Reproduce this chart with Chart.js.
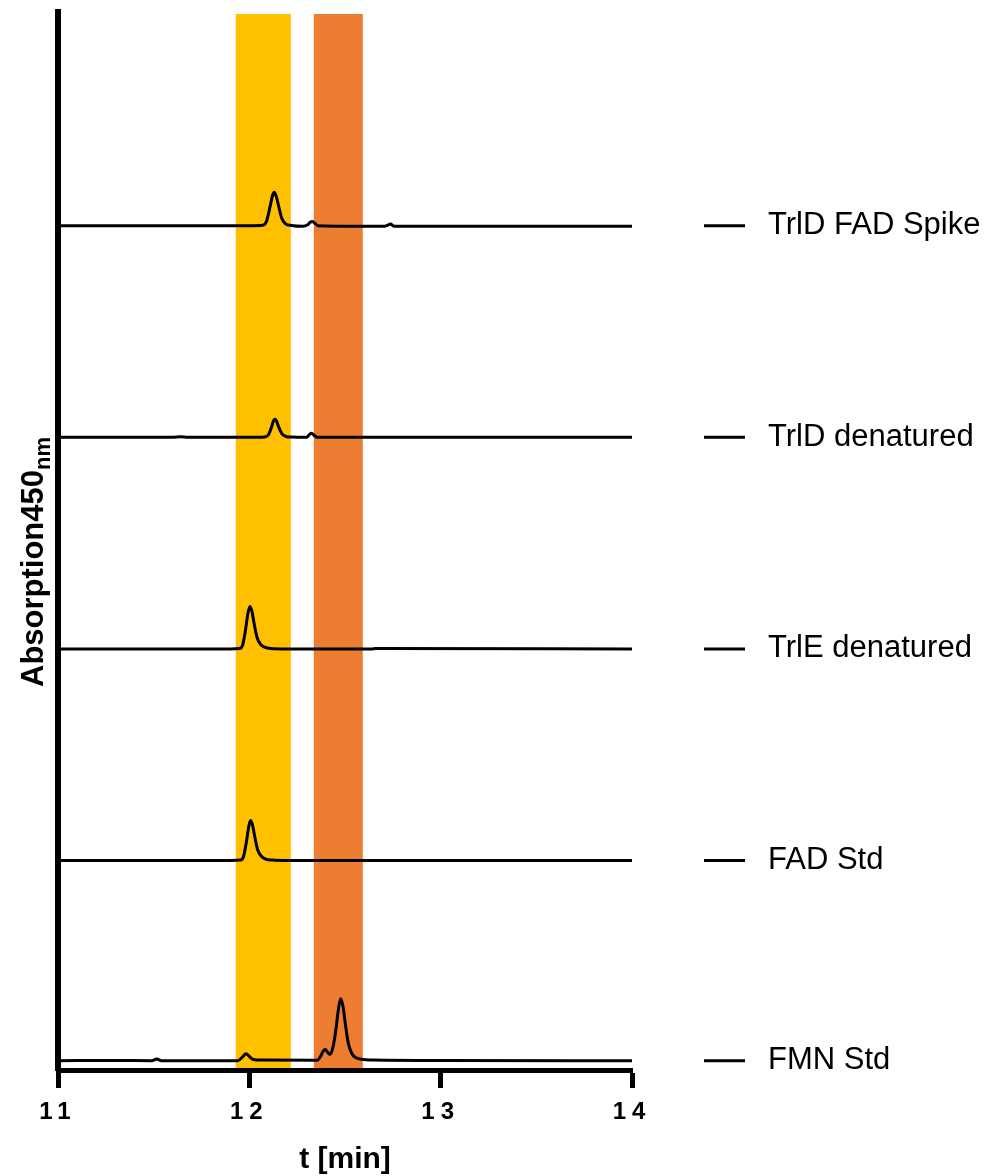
<!DOCTYPE html>
<html>
<head>
<meta charset="utf-8">
<script src="https://cdn.jsdelivr.net/npm/chart.js@4/dist/chart.umd.min.js"></script>
<style>
  body { margin: 0; background: #fff; }
  #wrap { width: 984px; height: 1176px; }
</style>
</head>
<body>
<div id="wrap"><canvas id="chrom" width="984" height="1176"></canvas></div>
<script>
// Sample names, top to bottom
const sampleNames = ['TrlD FAD Spike', 'TrlD denatured', 'TrlE denatured', 'FAD Std', 'FMN Std'];
// Vertical offset of each trace (stacked chromatograms)
const traceOffsets = [3.99, 2.99, 1.99, 0.99, 0.044];

// Retention time [min] and absorbance for each trace
const spikeTime = [11.0, 11.5, 12.0, 12.07, 12.09, 12.11, 12.122, 12.13, 12.14, 12.15, 12.17, 12.19, 12.22, 12.28, 12.305, 12.318, 12.329, 12.342, 12.36, 12.7, 12.722, 12.738, 12.755, 13.2, 14.0];
const spikeAbs  = [0, 0, 0, 0.002, 0.021, 0.097, 0.145, 0.158, 0.14, 0.105, 0.034, 0.009, 0.001, -0.003, 0.004, 0.016, 0.02, 0.012, 0, -0.003, 0.002, 0.008, -0.002, -0.003, -0.003];

const trldTime = [11.0, 11.6, 11.64, 11.68, 12.0, 12.08, 12.1, 12.115, 12.125, 12.133, 12.142, 12.152, 12.17, 12.19, 12.22, 12.3, 12.313, 12.325, 12.338, 12.355, 12.6, 14.0];
const trldAbs  = [0, 0, 0.003, 0, 0, 0.002, 0.012, 0.045, 0.075, 0.085, 0.077, 0.052, 0.018, 0.005, 0.001, 0, 0.012, 0.019, 0.01, 0, 0, 0];

const trleTime = [11.0, 11.9, 11.95, 11.965, 11.98, 11.993, 12.003, 12.013, 12.025, 12.04, 12.06, 12.08, 12.11, 12.2, 12.64, 12.66, 14.0];
const trleAbs  = [0, 0, 0.002, 0.018, 0.09, 0.17, 0.201, 0.18, 0.12, 0.055, 0.02, 0.008, 0.002, 0, 0, 0.002, 0];

const fadTime = [11.0, 11.9, 11.955, 11.97, 11.985, 11.997, 12.006, 12.016, 12.028, 12.043, 12.063, 12.085, 12.12, 12.2, 14.0];
const fadAbs  = [0, 0, 0.002, 0.02, 0.09, 0.16, 0.189, 0.17, 0.115, 0.052, 0.02, 0.007, 0.002, 0, 0];

const fmnTime = [11.0, 11.3, 11.49, 11.516, 11.54, 11.94, 11.965, 11.982, 12.0, 12.02, 12.06, 12.355, 12.372, 12.386, 12.397, 12.409, 12.421, 12.433, 12.445, 12.455, 12.465, 12.477, 12.49, 12.503, 12.518, 12.535, 12.555, 12.585, 12.65, 13.0, 14.0];
const fmnAbs  = [0, 0.001, 0, 0.008, 0, 0, 0.018, 0.033, 0.02, 0.006, 0.003, 0.002, 0.02, 0.045, 0.053, 0.04, 0.03, 0.05, 0.1, 0.165, 0.24, 0.293, 0.255, 0.165, 0.08, 0.035, 0.015, 0.007, 0.003, 0.001, 0];

const traceTimes = [spikeTime, trldTime, trleTime, fadTime, fmnTime];
const traceAbs = [spikeAbs, trldAbs, trleAbs, fadAbs, fmnAbs];

// Highlighted retention windows [start, end] in min: FAD, FMN
const windowRanges = [[11.929, 12.217], [12.337, 12.593]];
const windowColors = ['#FFC000', '#ED7D31'];

const xTicks = [11, 12, 13, 14];

const FONT = '"Liberation Sans", Arial, Helvetica, sans-serif';

const datasets = sampleNames.map((name, i) => ({
  label: name,
  data: traceTimes[i].map((t, k) => ({ x: t, y: traceAbs[i][k] + traceOffsets[i] })),
  borderColor: '#000',
  borderWidth: 3,
  pointRadius: 0,
  fill: false,
  cubicInterpolationMode: 'monotone'
}));

// shaded windows behind everything, plus spaced tick digits
const windowPlugin = {
  id: 'windows',
  beforeDraw(chart) {
    const { ctx, chartArea } = chart;
    const xs = chart.scales.x;
    ctx.save();
    windowRanges.forEach((r, i) => {
      const x1 = xs.getPixelForValue(r[0]);
      const x2 = xs.getPixelForValue(r[1]);
      ctx.fillStyle = windowColors[i];
      ctx.fillRect(x1, chartArea.top + 2, x2 - x1, chartArea.bottom - chartArea.top - 2);
    });
    ctx.restore();
    ctx.letterSpacing = '6px';
  },
  beforeDatasetsDraw(chart) {
    chart.ctx.letterSpacing = '0px';
  }
};

// sample labels on the right, axis titles
const labelPlugin = {
  id: 'labels',
  afterDraw(chart) {
    const { ctx, chartArea } = chart;
    const ys = chart.scales.y;
    ctx.save();
    ctx.letterSpacing = '0px';
    ctx.fillStyle = '#000';
    ctx.strokeStyle = '#000';

    sampleNames.forEach((name, i) => {
      const y = ys.getPixelForValue(traceOffsets[i]);
      ctx.lineWidth = 3;
      ctx.beginPath();
      ctx.moveTo(704, y);
      ctx.lineTo(745, y);
      ctx.stroke();
      ctx.font = '31px ' + FONT;
      ctx.textAlign = 'left';
      ctx.textBaseline = 'middle';
      ctx.fillText(name, 768, y);
    });

    // x title
    ctx.font = 'bold 30px ' + FONT;
    ctx.textAlign = 'center';
    ctx.textBaseline = 'middle';
    ctx.fillText('t [min]', (chartArea.left + chartArea.right) / 2, 1160);

    // y title with subscript
    ctx.translate(43, 687);
    ctx.rotate(-Math.PI / 2);
    ctx.textAlign = 'left';
    ctx.textBaseline = 'alphabetic';
    ctx.font = 'bold 31px ' + FONT;
    const main = 'Absorption450';
    ctx.fillText(main, 0, 0);
    const w = ctx.measureText(main).width;
    ctx.font = 'bold 22px ' + FONT;
    ctx.fillText('nm', w, 7);
    ctx.restore();
  }
};

new Chart(document.getElementById('chrom'), {
  type: 'line',
  data: { datasets },
  options: {
    responsive: false,
    animation: false,
    layout: { padding: { top: 12, left: 58, right: 352, bottom: 0 } },
    plugins: {
      legend: { display: false },
      tooltip: { enabled: false }
    },
    scales: {
      x: {
        type: 'linear',
        min: 11,
        max: 14,
        afterBuildTicks: (scale) => { scale.ticks = xTicks.map(v => ({ value: v })); },
        afterFit: (scale) => { scale.height = 106; },
        grid: {
          display: true,
          drawOnChartArea: false,
          drawTicks: true,
          tickLength: 18,
          tickWidth: 5,
          tickColor: '#000'
        },
        border: { display: true, color: '#000', width: 5 },
        ticks: {
          color: '#000',
          padding: 10,
          maxRotation: 0,
          font: { family: FONT, size: 24, weight: 'bold' }
        }
      },
      y: {
        min: 0,
        max: 5,
        afterFit: (scale) => { scale.width = 0; },
        grid: { display: false, drawTicks: false },
        border: { display: true, color: '#000', width: 6 },
        ticks: { display: false }
      }
    }
  },
  plugins: [windowPlugin, labelPlugin]
});
</script>
</body>
</html>
